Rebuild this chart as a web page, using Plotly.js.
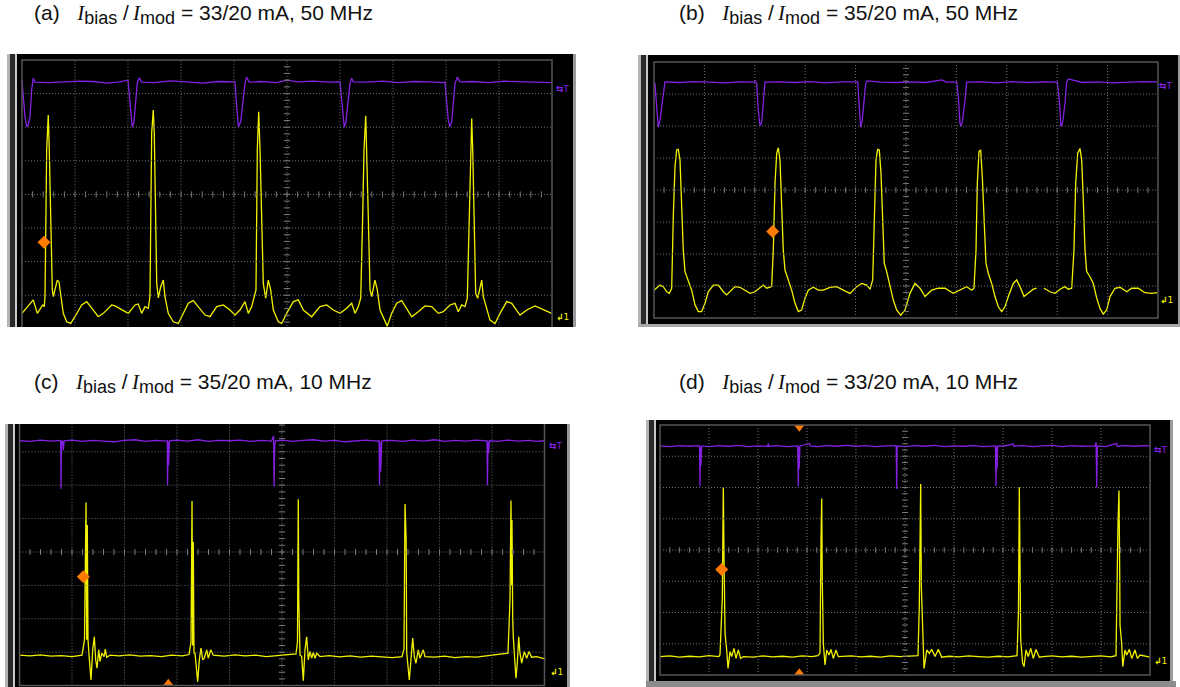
<!DOCTYPE html>
<html><head><meta charset="utf-8">
<script src="https://cdn.plot.ly/plotly-3.0.1.min.js"></script>
<style>html,body{margin:0;padding:0;background:#fff;}#chart{width:1180px;height:687px;}</style>
</head><body><div id="chart"></div>
<script>
// ---------- DATA (oscilloscope divisions: x 0..10, y -4..4) ----------
const panelLetters = ["(a)", "(b)", "(c)", "(d)"];
const panelBias = ["33/20 mA", "35/20 mA", "35/20 mA", "33/20 mA"];
const panelFreq = ["50 MHz", "50 MHz", "10 MHz", "10 MHz"];

const aPurple = [[0,3.40],[0.03,2.85],[0.057,2.31],[0.089,2.01],[0.119,2.07],[0.151,2.31],[0.183,3.11],[0.213,3.46],[0.245,3.34],[0.5,3.33],[0.8,3.35],[1.1,3.37],[1.35,3.36],[1.6,3.31],[1.85,3.35],[2.0,3.40],[2.051,2.51],[2.081,2.00],[2.113,2.16],[2.145,2.81],[2.175,3.31],[2.213,3.47],[2.258,3.34],[2.5,3.33],[2.8,3.38],[3.1,3.35],[3.4,3.31],[3.7,3.36],[4.0,3.35],[4.019,3.35],[4.051,2.61],[4.083,2.01],[4.126,2.16],[4.175,2.81],[4.208,3.31],[4.238,3.49],[4.289,3.34],[4.5,3.36],[4.8,3.33],[5.0,3.40],[5.2,3.35],[5.5,3.37],[5.8,3.34],[6.0,3.35],[6.032,2.81],[6.062,2.21],[6.081,2.00],[6.113,2.16],[6.157,2.81],[6.189,3.31],[6.221,3.46],[6.251,3.35],[6.5,3.34],[6.8,3.37],[7.1,3.33],[7.4,3.36],[7.7,3.35],[7.95,3.33],[7.981,3.35],[8.013,2.71],[8.043,2.21],[8.075,2.01],[8.107,2.16],[8.138,2.71],[8.17,3.31],[8.213,3.49],[8.264,3.35],[8.5,3.36],[8.8,3.33],[9.1,3.37],[9.4,3.35],[9.7,3.34],[10.0,3.33]];

const aYellow = [[0,-3.54],[0.213,-3.14],[0.289,-3.54],[0.391,-3.29],[0.421,-3.34],[0.434,-3.04],[0.466,1.32],[0.496,2.36],[0.515,1.32],[0.528,0.13],[0.547,-1.06],[0.572,-2.84],[0.591,-3.04],[0.666,-2.55],[0.698,-2.60],[0.736,-3.04],[0.779,-3.54],[0.843,-3.79],[0.919,-3.84],[1.0,-3.64],[1.126,-3.29],[1.221,-3.19],[1.315,-3.39],[1.44,-3.64],[1.534,-3.54],[1.692,-3.29],[1.755,-3.32],[1.881,-3.44],[2.006,-3.54],[2.132,-3.29],[2.194,-3.26],[2.258,-3.54],[2.321,-3.34],[2.383,-3.39],[2.415,-3.04],[2.447,1.83],[2.477,2.51],[2.496,1.83],[2.523,-0.66],[2.542,-2.64],[2.572,-3.08],[2.617,-2.75],[2.666,-2.55],[2.698,-3.04],[2.76,-3.54],[2.855,-3.79],[2.949,-3.84],[3.043,-3.54],[3.138,-3.24],[3.232,-3.16],[3.326,-3.34],[3.453,-3.59],[3.547,-3.64],[3.674,-3.34],[3.798,-3.29],[3.925,-3.44],[4.019,-3.59],[4.113,-3.44],[4.208,-3.19],[4.27,-3.54],[4.334,-3.34],[4.415,-2.84],[4.44,1.32],[4.466,2.46],[4.491,1.32],[4.523,-1.15],[4.553,-2.65],[4.598,-3.09],[4.647,-2.55],[4.692,-2.84],[4.742,-3.44],[4.836,-3.79],[4.9,-3.84],[4.994,-3.54],[5.119,-3.19],[5.213,-3.14],[5.308,-3.44],[5.466,-3.64],[5.623,-3.34],[5.749,-3.29],[5.874,-3.44],[6.0,-3.54],[6.126,-3.39],[6.221,-3.24],[6.283,-3.54],[6.345,-3.34],[6.391,-3.09],[6.428,-0.66],[6.453,1.32],[6.485,2.34],[6.504,1.32],[6.534,-0.66],[6.566,-2.84],[6.598,-3.04],[6.66,-2.55],[6.704,-2.84],[6.755,-3.44],[6.836,-3.74],[6.892,-3.92],[6.975,-3.54],[7.07,-3.24],[7.164,-3.16],[7.258,-3.39],[7.353,-3.64],[7.477,-3.49],[7.604,-3.32],[7.73,-3.34],[7.855,-3.54],[7.949,-3.49],[8.075,-3.29],[8.17,-3.24],[8.232,-3.49],[8.296,-3.29],[8.358,-3.34],[8.402,-3.09],[8.44,-0.66],[8.466,1.32],[8.485,2.26],[8.504,1.32],[8.528,-0.66],[8.56,-2.94],[8.598,-3.09],[8.642,-2.75],[8.674,-2.55],[8.704,-3.04],[8.768,-3.44],[8.83,-3.74],[8.925,-3.84],[9.019,-3.54],[9.145,-3.19],[9.24,-3.24],[9.396,-3.59],[9.523,-3.44],[9.679,-3.32],[9.836,-3.44],[9.994,-3.54]];

const bPurple = [[0,3.37],[0.02,3.33],[0.053,2.60],[0.085,1.96],[0.119,2.19],[0.152,2.60],[0.185,3.02],[0.218,3.38],[0.5,3.36],[0.8,3.39],[1.1,3.37],[1.4,3.35],[1.7,3.38],[1.98,3.37],[2.004,3.42],[2.038,3.33],[2.069,2.50],[2.103,2.00],[2.137,2.13],[2.169,2.81],[2.202,3.37],[2.5,3.38],[2.8,3.36],[3.1,3.39],[3.4,3.35],[3.7,3.38],[4.02,3.37],[4.042,3.38],[4.073,2.60],[4.101,1.96],[4.133,2.19],[4.167,2.71],[4.2,3.33],[4.232,3.41],[4.5,3.37],[4.8,3.36],[5.1,3.38],[5.4,3.36],[5.71,3.44],[5.8,3.37],[5.98,3.37],[6.006,3.37],[6.038,2.92],[6.071,2.08],[6.091,1.98],[6.125,2.19],[6.171,2.81],[6.204,3.37],[6.5,3.38],[6.8,3.35],[7.1,3.39],[7.4,3.36],[7.7,3.38],[7.98,3.37],[8.002,3.37],[8.042,2.81],[8.075,1.98],[8.109,2.13],[8.155,2.71],[8.188,3.37],[8.22,3.47],[8.5,3.36],[8.8,3.38],[9.1,3.35],[9.4,3.37],[9.7,3.39],[9.98,3.38]];

const bYellow = [[0,-3.13],[0.119,-2.97],[0.185,-3.02],[0.252,-3.18],[0.304,-3.23],[0.351,-3.07],[0.383,-0.83],[0.417,0.73],[0.45,1.25],[0.482,1.27],[0.516,0.94],[0.55,-0.31],[0.581,-1.88],[0.615,-2.55],[0.681,-2.81],[0.748,-3.13],[0.813,-3.59],[0.879,-3.80],[0.946,-3.80],[1.012,-3.54],[1.077,-3.18],[1.177,-2.97],[1.276,-2.97],[1.375,-3.18],[1.442,-3.28],[1.508,-3.18],[1.607,-3.02],[1.706,-3.04],[1.806,-3.13],[1.905,-3.23],[2.004,-3.18],[2.103,-3.04],[2.169,-2.97],[2.236,-3.07],[2.335,-3.02],[2.367,-1.88],[2.401,0.21],[2.435,1.15],[2.466,1.32],[2.5,0.94],[2.534,-0.31],[2.565,-1.88],[2.599,-2.50],[2.665,-2.81],[2.732,-3.13],[2.798,-3.54],[2.863,-3.80],[2.93,-3.75],[2.996,-3.38],[3.062,-3.13],[3.161,-3.04],[3.26,-3.13],[3.359,-3.13],[3.492,-3.04],[3.625,-3.02],[3.756,-3.13],[3.889,-3.23],[4.022,-3.02],[4.121,-2.92],[4.22,-2.97],[4.286,-3.10],[4.339,-2.81],[4.371,-0.83],[4.405,0.94],[4.438,1.27],[4.47,1.25],[4.504,0.52],[4.537,-0.83],[4.569,-2.29],[4.617,-2.55],[4.683,-3.02],[4.748,-3.44],[4.815,-3.75],[4.895,-3.91],[4.98,-3.75],[5.079,-3.23],[5.179,-2.92],[5.278,-3.07],[5.377,-3.33],[5.51,-3.13],[5.641,-3.07],[5.774,-3.07],[5.938,-3.23],[6.071,-3.13],[6.204,-3.02],[6.304,-3.13],[6.349,-3.07],[6.389,-1.88],[6.415,0.21],[6.448,1.20],[6.482,1.25],[6.514,0.42],[6.548,-0.83],[6.587,-2.29],[6.633,-2.60],[6.7,-2.92],[6.766,-3.33],[6.831,-3.65],[6.899,-3.80],[6.964,-3.65],[7.03,-3.33],[7.129,-2.92],[7.196,-2.81],[7.262,-3.02],[7.341,-3.33],[7.427,-3.23],[7.526,-3.10],[7.593,-3.07],[7.66,null],[7.738,-3.07],[7.857,-3.18],[7.956,-3.23],[8.056,-3.10],[8.155,-3.02],[8.22,-3.10],[8.288,-3.07],[8.333,-1.88],[8.367,0.21],[8.407,1.15],[8.452,1.30],[8.486,0.94],[8.518,-0.31],[8.552,-1.88],[8.585,-2.55],[8.651,-2.71],[8.716,-2.92],[8.784,-3.38],[8.849,-3.70],[8.915,-3.88],[8.982,-3.75],[9.048,-3.33],[9.147,-3.07],[9.246,-3.04],[9.379,-3.18],[9.478,-3.07],[9.609,-3.07],[9.742,-3.21],[9.875,-3.23],[9.986,-3.21]];

const cPurple = [[0,3.33],[0.2,3.31],[0.4,3.35],[0.6,3.32],[0.77,3.34],[0.785,3.33],[0.79,1.89],[0.80,3.30],[0.82,3.33],[0.835,3.05],[0.85,3.33],[1.0,3.35],[1.2,3.31],[1.4,3.34],[1.6,3.32],[1.8,3.30],[2.0,3.34],[2.2,3.36],[2.4,3.31],[2.6,3.34],[2.8,3.32],[2.815,3.33],[2.82,2.00],[2.83,3.30],[2.84,2.60],[2.855,3.33],[3.0,3.35],[3.2,3.32],[3.4,3.36],[3.6,3.31],[3.8,3.34],[4.0,3.33],[4.2,3.35],[4.4,3.31],[4.6,3.34],[4.8,3.32],[4.84,3.47],[4.85,1.96],[4.86,3.20],[4.88,3.33],[5.0,3.35],[5.2,3.31],[5.4,3.34],[5.6,3.36],[5.8,3.32],[6.0,3.34],[6.2,3.30],[6.4,3.33],[6.6,3.35],[6.8,3.32],[6.85,3.33],[6.857,2.00],[6.867,3.30],[6.88,2.40],[6.9,3.33],[7.1,3.34],[7.3,3.31],[7.5,3.35],[7.7,3.32],[7.9,3.36],[8.1,3.31],[8.3,3.34],[8.5,3.32],[8.7,3.35],[8.905,3.33],[8.914,2.00],[8.924,3.30],[8.935,2.96],[8.95,3.33],[9.1,3.31],[9.3,3.35],[9.5,3.32],[9.7,3.34],[9.85,3.31],[10.0,3.33]];

const cYellow = [[0,-3.09],[0.2,-3.11],[0.4,-3.08],[0.6,-3.12],[0.8,-3.10],[1.0,-3.13],[1.19,-3.09],[1.238,-2.63],[1.267,1.48],[1.28,-2.63],[1.291,0.81],[1.305,-2.63],[1.324,-3.08],[1.343,-3.58],[1.362,-3.83],[1.394,-2.93],[1.425,-2.54],[1.451,-3.23],[1.476,-3.48],[1.509,-2.93],[1.533,-3.28],[1.566,-3.03],[1.61,-3.13],[1.634,-2.91],[1.661,-3.15],[1.724,-3.09],[1.9,-3.11],[2.1,-3.08],[2.3,-3.12],[2.5,-3.10],[2.7,-3.13],[2.9,-3.09],[3.1,-3.11],[3.229,-3.07],[3.267,-2.70],[3.286,1.53],[3.299,-2.80],[3.31,0.31],[3.324,-3.03],[3.343,-3.03],[3.375,-3.53],[3.394,-3.88],[3.425,-3.23],[3.457,-2.88],[3.49,-3.23],[3.52,-3.18],[3.566,-2.93],[3.596,-3.18],[3.642,-2.93],[3.691,-3.09],[3.9,-3.12],[4.1,-3.08],[4.3,-3.11],[4.5,-3.09],[4.7,-3.13],[4.9,-3.10],[5.1,-3.08],[5.267,-3.05],[5.295,-2.70],[5.31,1.58],[5.32,-1.44],[5.33,-2.90],[5.343,-3.08],[5.375,-3.13],[5.394,-3.63],[5.406,-3.85],[5.438,-2.93],[5.47,-2.54],[5.501,-3.23],[5.533,-2.98],[5.566,-3.18],[5.596,-3.01],[5.629,-3.18],[5.661,-3.03],[5.724,-3.13],[5.9,-3.10],[6.1,-3.14],[6.3,-3.11],[6.5,-3.15],[6.7,-3.12],[6.9,-3.14],[7.1,-3.16],[7.286,-3.13],[7.324,-2.90],[7.343,1.44],[7.356,0.76],[7.365,0.36],[7.375,-3.00],[7.387,-3.20],[7.406,-3.43],[7.425,-3.83],[7.451,-3.33],[7.49,-2.58],[7.52,-3.13],[7.552,-3.33],[7.596,-2.93],[7.629,-3.18],[7.691,-2.93],[7.724,-3.13],[7.9,-3.15],[8.1,-3.12],[8.3,-3.16],[8.5,-3.13],[8.7,-3.15],[8.9,-3.11],[9.1,-3.05],[9.305,-3.03],[9.343,-1.44],[9.362,1.54],[9.375,-1.00],[9.381,0.96],[9.395,-2.00],[9.406,-2.54],[9.438,-3.33],[9.457,-3.78],[9.482,-3.33],[9.509,-2.54],[9.533,-3.03],[9.566,-3.33],[9.615,-2.98],[9.661,-3.18],[9.705,-2.98],[9.756,-3.15],[9.851,-3.13],[9.977,-3.18],[10.02,-3.21]];

const dPurple = [[0,3.33],[0.2,3.31],[0.4,3.34],[0.6,3.32],[0.79,3.34],[0.805,3.33],[0.816,2.03],[0.826,3.30],[0.835,2.70],[0.85,3.33],[1.0,3.31],[1.2,3.34],[1.4,3.32],[1.6,3.35],[1.8,3.31],[2.0,3.33],[2.2,3.32],[2.21,3.41],[2.22,3.32],[2.4,3.34],[2.6,3.31],[2.81,3.33],[2.823,2.05],[2.83,3.30],[2.84,2.60],[2.855,3.33],[3.05,3.41],[3.06,3.33],[3.2,3.31],[3.4,3.34],[3.6,3.32],[3.8,3.35],[4.0,3.32],[4.2,3.34],[4.4,3.31],[4.6,3.33],[4.82,3.33],[4.83,1.95],[4.84,3.30],[4.86,3.33],[5.0,3.31],[5.2,3.34],[5.4,3.32],[5.6,3.35],[5.8,3.31],[6.0,3.33],[6.2,3.32],[6.4,3.34],[6.6,3.31],[6.845,3.33],[6.857,2.05],[6.867,3.30],[6.88,2.60],[6.89,3.33],[7.0,3.32],[7.21,3.39],[7.22,3.32],[7.4,3.34],[7.6,3.31],[7.8,3.33],[8.0,3.35],[8.2,3.31],[8.4,3.34],[8.6,3.32],[8.88,3.33],[8.9,3.45],[8.912,2.00],[8.925,3.30],[8.94,3.33],[9.1,3.31],[9.32,3.41],[9.33,3.32],[9.5,3.34],[9.7,3.32],[9.85,3.34],[10.0,3.33]];

const dYellow = [[0,-3.41],[0.2,-3.39],[0.4,-3.43],[0.6,-3.40],[0.8,-3.42],[1.0,-3.38],[1.2,-3.41],[1.224,-3.35],[1.271,-1.55],[1.292,2.01],[1.306,-0.21],[1.327,-2.67],[1.361,-3.20],[1.388,-3.79],[1.429,-3.25],[1.463,-3.41],[1.51,-3.15],[1.551,-3.47],[1.598,-3.20],[1.647,-3.47],[1.7,-3.41],[1.9,-3.43],[2.1,-3.39],[2.3,-3.42],[2.5,-3.40],[2.7,-3.43],[2.9,-3.39],[3.1,-3.41],[3.224,-3.38],[3.265,-3.30],[3.286,0.37],[3.3,1.65],[3.312,-1.00],[3.333,-2.99],[3.367,-3.68],[3.402,-3.20],[3.449,-3.36],[3.49,-3.18],[3.537,-3.47],[3.592,-3.20],[3.639,-3.41],[3.708,-3.41],[3.9,-3.39],[4.1,-3.42],[4.3,-3.40],[4.5,-3.43],[4.7,-3.39],[4.9,-3.41],[5.1,-3.40],[5.265,-3.38],[5.292,-1.76],[5.32,2.11],[5.333,-1.17],[5.361,-2.88],[5.388,-3.79],[5.408,-3.60],[5.443,-3.20],[5.496,-3.31],[5.545,-3.18],[5.612,-3.41],[5.68,-3.18],[5.749,-3.43],[5.9,-3.40],[6.1,-3.42],[6.3,-3.39],[6.5,-3.41],[6.7,-3.43],[6.9,-3.40],[7.1,-3.42],[7.286,-3.38],[7.315,-2.00],[7.333,2.01],[7.347,-0.48],[7.361,-2.88],[7.402,-3.63],[7.429,-3.73],[7.469,-3.20],[7.516,-3.41],[7.565,-3.15],[7.618,-3.47],[7.673,-3.18],[7.741,-3.43],[7.816,-3.41],[8.0,-3.39],[8.2,-3.42],[8.4,-3.40],[8.6,-3.43],[8.8,-3.41],[9.0,-3.39],[9.2,-3.42],[9.306,-3.38],[9.347,0.85],[9.367,1.90],[9.382,-0.80],[9.388,-2.40],[9.422,-2.99],[9.443,-3.73],[9.49,-3.20],[9.524,-3.36],[9.578,-3.18],[9.627,-3.47],[9.694,-3.20],[9.741,-3.47],[9.796,-3.36],[10.0,-3.43]];

// orange trigger-level diamonds [x, y]
const levelMarkers = [[0.415,-1.42],[2.355,-1.30],[1.215,-0.74],[1.259,-0.62]];
// trigger position triangles per panel
const trigTop = [null, null, null, [2.843, 3.93]];
const trigBottom = [null, null, [2.834, -3.93], [2.843, -3.93]];
// channel icon positions [x, purpleY, yellowY]
const chanIcons = [[10.2,3.14,-3.65],[10.16,3.25,-3.44],[10.22,3.17,-3.59],[10.22,3.2,-3.55]];

// ---------- LAYOUT ----------
const W = 1180, H = 687;
const px = x => x / W, py = y => 1 - y / H;
const serifI = "<span style='font-family:Liberation Serif'><i>I</i></span>";
const subTxt = s => "<sub><span style='font-size:18px'>" + s + "</span></sub>";
const makeTitle = i => panelLetters[i] + "&nbsp;&nbsp; " + serifI + subTxt("bias") + " /&#8201;" + serifI + subTxt("mod") +
  " = " + panelBias[i] + ", " + panelFreq[i];

const panels = [
  {purple:aPurple, yellow:aYellow, xr:[-0.094,10.396], yr:[-3.946,4.179], black:[17,54,573,327], title:[32,14]},
  {purple:bPurple, yellow:bYellow, xr:[-0.119,10.397], yr:[-4.1875,4.219], black:[648,55,1178,324], title:[677,14]},
  {purple:cPurple, yellow:cYellow, xr:[-0.086,10.429], yr:[-4.042,3.832], black:[15,424,567,687], title:[32,383]},
  {purple:dPurple, yellow:dYellow, xr:[-0.082,10.408], yr:[-4.192,4.16], black:[656,420,1170,681], title:[677,383]}
];
const PURPLE = 'rgb(132,32,226)', YELLOW = '#f2f200', ORANGE = '#ff7a00', GRID = '#707070';

const traces = [], shapes = [], annotations = [];
const layout = {
  width: W, height: H, margin: {l:0, r:0, t:0, b:0},
  paper_bgcolor: '#ffffff', plot_bgcolor: '#000000', showlegend: false, hovermode: false,
  font: {family: 'Liberation Sans, Arial, sans-serif', size: 21, color: '#000'}
};

panels.forEach((p, i) => {
  const n = i === 0 ? '' : String(i + 1);
  const xa = 'x' + n, ya = 'y' + n;
  const [bx0, by0, bx1, by1] = p.black;
  const axCommon = {showgrid:false, zeroline:false, showticklabels:false, showline:false, ticks:'', fixedrange:true};
  layout['xaxis' + n] = Object.assign({domain:[px(bx0), px(bx1)], range:p.xr, anchor:ya}, axCommon);
  layout['yaxis' + n] = Object.assign({domain:[py(by1), py(by0)], range:p.yr, anchor:xa}, axCommon);

  // graticule: dotted division lines, solid border, centre tick marks
  for (let k = 1; k <= 9; k++)
    shapes.push({type:'line', xref:xa, yref:ya, x0:k, x1:k, y0:-4, y1:4, line:{color:GRID, width:1, dash:'1px,2px'}});
  for (let k = -3; k <= 3; k++)
    shapes.push({type:'line', xref:xa, yref:ya, x0:0, x1:10, y0:k, y1:k, line:{color:GRID, width:1, dash:'1px,2px'}});
  shapes.push({type:'rect', xref:xa, yref:ya, x0:0, x1:10, y0:-4, y1:4, line:{color:'#555', width:1.5}});
  for (let k = 1; k < 50; k++) {
    const t = k * 0.2;
    shapes.push({type:'line', xref:xa, yref:ya, x0:t, x1:t, y0:-0.09, y1:0.09, line:{color:'#7a7a7a', width:1}});
  }
  for (let k = -19; k < 20; k++) {
    const t = k * 0.2;
    shapes.push({type:'line', xref:xa, yref:ya, x0:4.94, x1:5.06, y0:t, y1:t, line:{color:'#7a7a7a', width:1}});
  }

  traces.push({type:'scatter', mode:'lines', xaxis:xa, yaxis:ya,
    x:p.purple.map(d=>d[0]), y:p.purple.map(d=>d[1]), line:{color:PURPLE, width:1.3}, connectgaps:false});
  traces.push({type:'scatter', mode:'lines', xaxis:xa, yaxis:ya,
    x:p.yellow.map(d=>d[0]), y:p.yellow.map(d=>d[1]), line:{color:YELLOW, width:1.3}, connectgaps:false});
  traces.push({type:'scatter', mode:'markers', xaxis:xa, yaxis:ya,
    x:[levelMarkers[i][0]], y:[levelMarkers[i][1]], marker:{symbol:'diamond', size:10, color:ORANGE}});
  if (trigTop[i]) traces.push({type:'scatter', mode:'markers', xaxis:xa, yaxis:ya,
    x:[trigTop[i][0]], y:[trigTop[i][1]], marker:{symbol:'triangle-down', size:9, color:ORANGE}});
  if (trigBottom[i]) traces.push({type:'scatter', mode:'markers', xaxis:xa, yaxis:ya,
    x:[trigBottom[i][0]], y:[trigBottom[i][1]], marker:{symbol:'triangle-up', size:9, color:ORANGE}});

  // channel icons
  const ci = chanIcons[i];
  annotations.push({xref:xa, yref:ya, x:ci[0], y:ci[1], text:'<b>⇆</b>T', showarrow:false,
    font:{family:'DejaVu Sans', size:9, color:PURPLE}, xanchor:'center'});
  annotations.push({xref:xa, yref:ya, x:ci[0], y:ci[2], text:'<b>↲</b>1', showarrow:false,
    font:{family:'DejaVu Sans', size:9, color:YELLOW}, xanchor:'center'});

  // title
  annotations.push({xref:'paper', yref:'paper', x:px(p.title[0]), y:py(p.title[1]), xanchor:'left', yanchor:'middle',
    text:makeTitle(i), showarrow:false, font:{family:'Liberation Sans, Arial, sans-serif', size:21, color:'#111'}});

  // scope bezel (left grey strips, right edge)
  shapes.push({type:'rect', xref:'paper', yref:'paper', x0:px(bx0-10), x1:px(bx0-7), y0:py(by1), y1:py(by0), line:{width:0}, fillcolor:'#b4b4b4'});
  shapes.push({type:'rect', xref:'paper', yref:'paper', x0:px(bx0-7), x1:px(bx0-2), y0:py(by1), y1:py(by0), line:{width:0}, fillcolor:'#2a2a2a'});
  shapes.push({type:'rect', xref:'paper', yref:'paper', x0:px(bx0-2), x1:px(bx0), y0:py(by1), y1:py(by0), line:{width:0}, fillcolor:'#c8c8c8'});
  shapes.push({type:'rect', xref:'paper', yref:'paper', x0:px(bx1), x1:px(Math.min(bx1+3, W)), y0:py(by1), y1:py(by0), line:{width:0}, fillcolor:'#9a9a9a'});
});
// bottom strips of panels (b) and (d)
shapes.push({type:'rect', xref:'paper', yref:'paper', x0:px(638), x1:px(1180), y0:py(327), y1:py(324), line:{width:0}, fillcolor:'#a8a8a8'});
shapes.push({type:'rect', xref:'paper', yref:'paper', x0:px(646), x1:px(1176), y0:py(687), y1:py(681), line:{width:0}, fillcolor:'#8c8c8c'});

layout.shapes = shapes;
layout.annotations = annotations;
Plotly.newPlot('chart', traces, layout, {displayModeBar:false, staticPlot:true});
</script></body></html>
